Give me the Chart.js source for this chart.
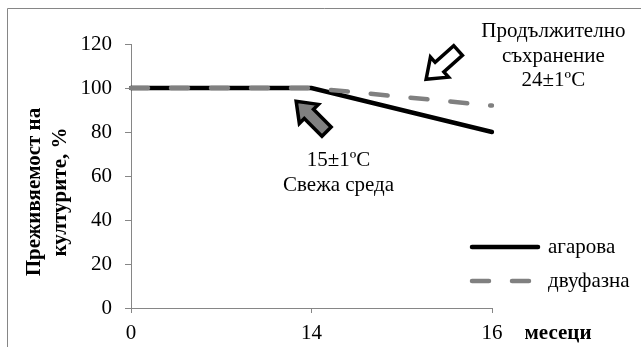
<!DOCTYPE html>
<html>
<head>
<meta charset="utf-8">
<script src="https://cdn.jsdelivr.net/npm/chart.js@4.4.0/dist/chart.umd.min.js"></script>
<style>
  html, body { margin: 0; padding: 0; background: #fff; }
  #wrap { width: 641px; height: 347px; }
</style>
</head>
<body>
<div id="wrap"><canvas id="chart" width="641" height="347"></canvas></div>
<script>
// data
var months = ['0', '14', '16'];
var agarova = [100, 100, 80];
var dvufazna = [100, 100, 92];
var yMin = 0, yMax = 120, yStep = 20;

var seriesNames = ['агарова', 'двуфазна'];
var yTitle = ['Преживяемост на', 'културите, %'];
var xTitle = 'месеци';

// callouts, anchored in data units (category index, value)
var notes = [
  { lines: ['15±1ºC', 'Свежа среда'], x: 1.15, y: 67 },
  { lines: ['Продължително', 'съхранение', '24±1ºC'], x: 2.34, y: 125.5 }
];
var arrows = [
  { x: 0.915, y: 94, angle: 45, fill: '#808080' },
  { x: 1.635, y: 104, angle: -42, fill: '#ffffff' }
];

var serif = "'Liberation Serif', 'Times New Roman', serif";
var axisGray = '#868686';
var dashGray = '#808080';

function drawArrow(ctx, px, py, angleDeg, fill) {
  var L = 43, H = 18, hw = 13.5, sw = 6.5;
  ctx.save();
  ctx.translate(px, py);
  ctx.rotate(angleDeg * Math.PI / 180);
  ctx.beginPath();
  ctx.moveTo(0, 0);
  ctx.lineTo(H, hw);
  ctx.lineTo(H, sw);
  ctx.lineTo(L, sw);
  ctx.lineTo(L, -sw);
  ctx.lineTo(H, -sw);
  ctx.lineTo(H, -hw);
  ctx.closePath();
  ctx.fillStyle = fill;
  ctx.fill();
  ctx.lineWidth = 3.5;
  ctx.lineJoin = 'miter';
  ctx.strokeStyle = '#000';
  ctx.stroke();
  ctx.restore();
}

var decor = {
  id: 'decor',
  afterDraw: function(chart) {
    var ctx = chart.ctx;
    var xs = chart.scales.x, ys = chart.scales.y;
    ctx.save();

    // outer frame (only left and top are inside the crop)
    ctx.strokeStyle = axisGray;
    ctx.lineWidth = 1;
    ctx.beginPath();
    ctx.moveTo(7.5, 347);
    ctx.lineTo(7.5, 8.5);
    ctx.lineTo(641, 8.5);
    ctx.stroke();

    // y title, two rotated lines
    ctx.fillStyle = '#000';
    ctx.font = 'bold 21px ' + serif;
    ctx.textAlign = 'center';
    ctx.textBaseline = 'middle';
    var cy = 192;
    [35, 61].forEach(function(cx, i) {
      ctx.save();
      ctx.translate(cx, cy);
      ctx.rotate(-Math.PI / 2);
      ctx.fillText(yTitle[i], 0, 0);
      ctx.restore();
    });

    // x title
    ctx.fillText(xTitle, 558, 334);

    // callout texts
    ctx.font = '21px ' + serif;
    notes.forEach(function(n) {
      var px = xs.getPixelForValue(n.x);
      var py = ys.getPixelForValue(n.y);
      n.lines.forEach(function(t, i) {
        ctx.fillText(t, px, py + i * 24.5);
      });
    });

    // block arrows
    arrows.forEach(function(a) {
      drawArrow(ctx, xs.getPixelForValue(a.x), ys.getPixelForValue(a.y), a.angle, a.fill);
    });

    // legend
    ctx.lineCap = 'round';
    ctx.lineWidth = 4.5;
    ctx.strokeStyle = '#000';
    ctx.beginPath();
    ctx.moveTo(472, 247);
    ctx.lineTo(538, 247);
    ctx.stroke();
    ctx.strokeStyle = dashGray;
    ctx.setLineDash([17, 23]);
    ctx.beginPath();
    ctx.moveTo(472, 281);
    ctx.lineTo(540, 281);
    ctx.stroke();
    ctx.setLineDash([]);
    ctx.fillStyle = '#000';
    ctx.textAlign = 'left';
    ctx.fillText(seriesNames[0], 548, 247);
    ctx.fillText(seriesNames[1], 548, 281);

    ctx.restore();
  }
};

new Chart(document.getElementById('chart'), {
  type: 'line',
  data: {
    labels: months,
    datasets: [{
      label: seriesNames[0],
      data: agarova,
      borderColor: '#000000',
      borderWidth: 4.5,
      borderCapStyle: 'round',
      pointRadius: 0,
      tension: 0,
      order: 1
    }, {
      label: seriesNames[1],
      data: dvufazna,
      borderColor: dashGray,
      borderWidth: 4.5,
      borderDash: [17, 23],
      borderCapStyle: 'round',
      pointRadius: 0,
      tension: 0,
      order: 0
    }]
  },
  options: {
    responsive: false,
    animation: false,
    devicePixelRatio: 1,
    layout: { padding: { left: 0, top: 44, right: 149, bottom: 0 } },
    plugins: {
      legend: { display: false },
      tooltip: { enabled: false }
    },
    scales: {
      x: {
        offset: false,
        afterFit: function(s) { s.height = 39; },
        grid: { drawOnChartArea: false, tickLength: 5, color: axisGray },
        border: { color: axisGray, width: 1 },
        ticks: { color: '#000', font: { family: serif, size: 21 }, padding: 8, maxRotation: 0, autoSkip: false }
      },
      y: {
        min: yMin,
        max: yMax,
        afterFit: function(s) { s.width = 131; },
        grid: { drawOnChartArea: false, tickLength: 6, color: axisGray },
        border: { color: axisGray, width: 1 },
        ticks: { stepSize: yStep, color: '#000', font: { family: serif, size: 21 }, padding: 13 }
      }
    }
  },
  plugins: [decor]
});
</script>
</body>
</html>
